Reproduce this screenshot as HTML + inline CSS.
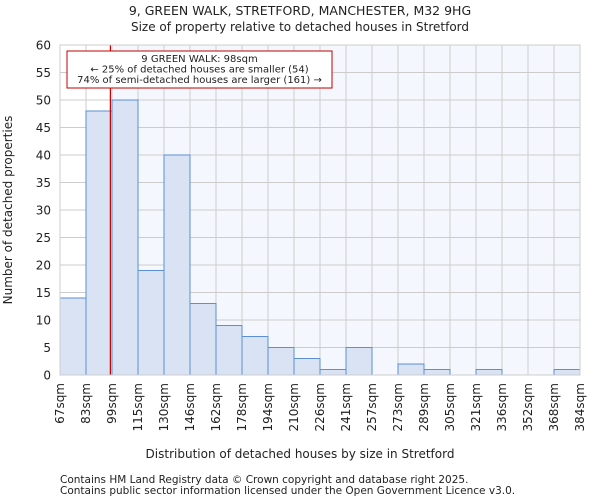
<!DOCTYPE html>
<html><head><meta charset="utf-8"><style>
body{margin:0;background:#fff;font-family:"DejaVu Sans","Liberation Sans",sans-serif;}
svg text{font-family:"DejaVu Sans","Liberation Sans",sans-serif;fill:#222;}
</style></head><body>
<svg id="chart" width="600" height="500">
<text x="300" y="15" text-anchor="middle" font-size="12.5">9, GREEN WALK, STRETFORD, MANCHESTER, M32 9HG</text>
<text x="300" y="31" text-anchor="middle" font-size="12">Size of property relative to detached houses in Stretford</text>
<g id="plot"></g>
<text x="300" y="458" text-anchor="middle" font-size="12">Distribution of detached houses by size in Stretford</text>
<text x="12" y="210" text-anchor="middle" font-size="12" transform="rotate(-90 12 210)">Number of detached properties</text>
<text x="60" y="483" font-size="10.5" fill="#555">Contains HM Land Registry data © Crown copyright and database right 2025.</text>
<text x="60" y="494" font-size="10.5" fill="#555">Contains public sector information licensed under the Open Government Licence v3.0.</text>
</svg>
<script>
const binLabels=["67sqm","83sqm","99sqm","115sqm","130sqm","146sqm","162sqm","178sqm","194sqm","210sqm","226sqm","241sqm","257sqm","273sqm","289sqm","305sqm","321sqm","336sqm","352sqm","368sqm","384sqm"];
const counts=[14,48,50,19,40,13,9,7,5,3,1,5,0,2,1,0,1,0,0,1];
const yTicks=[0,5,10,15,20,25,30,35,40,45,50,55,60];
const propertyBin=1+15/16;
const NS="http://www.w3.org/2000/svg";
const L=60,R=580,T=45,B=375,yMax=60;
const n=counts.length;
const xs=i=>L+(R-L)*i/n;
const ys=v=>B-(B-T)*v/yMax;
const g=document.getElementById('plot');
function mk(t,a){const e=document.createElementNS(NS,t);for(const k in a)e.setAttribute(k,a[k]);g.appendChild(e);return e;}
const lx=xs(propertyBin);
let bg=mk('rect',{x:L,y:T,width:R-L,height:B-T,fill:'#fff'});


let bg2=mk('rect',{x:lx,y:T,width:R-lx,height:B-T,fill:'#f4f7fd'});


yTicks.forEach(v=>{
 let l=mk('line',{x1:L,x2:R,y1:ys(v),y2:ys(v),stroke:'#cccccc','stroke-width':1});
 
 
 let t=mk('text',{x:L-9,y:ys(v)+4.5,'text-anchor':'end','font-size':12});
 t.textContent=v;
 
 
});
binLabels.forEach((s,i)=>{
 let l=mk('line',{x1:xs(i),x2:xs(i),y1:T,y2:B,stroke:'#cccccc','stroke-width':1});
 
 
 let x=xs(i)+4,y=B+8;
 let t=mk('text',{x:x,y:y,'text-anchor':'end','font-size':12,transform:`rotate(-90 ${x} ${y})`});
 t.textContent=s;
 
 
});
counts.forEach((c,i)=>{
 if(c<=0)return;
 let r=mk('rect',{x:xs(i),y:ys(c),width:xs(i+1)-xs(i),height:B-ys(c),fill:'#dae3f4',stroke:'#5b8fd6','stroke-width':1});
 
 
});
let rl=mk('line',{x1:lx,x2:lx,y1:T,y2:B,stroke:'#c00000','stroke-width':1.2});


let ax=mk('rect',{x:L,y:T,width:R-L,height:B-T,fill:'none',stroke:'#cccccc'});


let box=mk('rect',{x:67,y:51,width:265,height:37,fill:'#fff',stroke:'#c00000','stroke-width':1});


["9 GREEN WALK: 98sqm","← 25% of detached houses are smaller (54)","74% of semi-detached houses are larger (161) →"].forEach((s,i)=>{
 let t=mk('text',{x:199.5,y:62+i*10.5,'text-anchor':'middle','font-size':10});
 t.textContent=s;
 
 
});
</script>
</body></html>
